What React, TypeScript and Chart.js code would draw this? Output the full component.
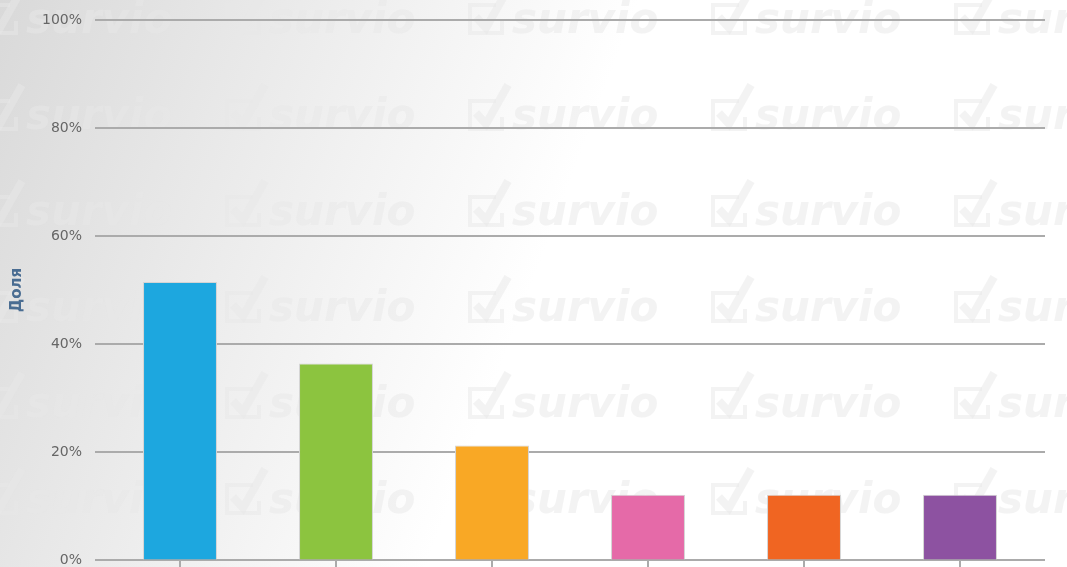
import React, { useEffect, useRef } from "react";
import { Chart, registerables } from "chart.js";

Chart.register(...registerables);

const categories = ["1", "2", "3", "4", "5", "6"];
const shares = [51.5, 36.4, 21.2, 12.1, 12.1, 12.1];
const barColors = ["#1da7df", "#8cc43f", "#f9a825", "#e56aa8", "#f06522", "#8d52a1"];
const yTicks = [0, 20, 40, 60, 80, 100];
const yTitle = "Доля";
const watermarkText = "survio";

const bgPlugin = {
  id: "bgWatermark",
  beforeDraw(chart: any) {
    const { ctx, width, height } = chart;
    ctx.save();
    const g = ctx.createLinearGradient(0, 0, 560, 210);
    g.addColorStop(0, "#d9d9d9");
    g.addColorStop(1, "#ffffff");
    ctx.fillStyle = g;
    ctx.fillRect(0, 0, width, height);
    ctx.fillStyle = "rgba(232,232,232,0.5)";
    ctx.strokeStyle = "rgba(232,232,232,0.5)";
    ctx.font = "italic bold 42px 'DejaVu Sans'";
    ctx.textBaseline = "alphabetic";
    for (let r = 0; r < 6; r++) {
      const by = 33 + r * 96;
      for (let c = 0; c < 5; c++) {
        const x0 = -20 + c * 243;
        ctx.lineWidth = 4;
        ctx.beginPath();
        ctx.moveTo(x0 + 30, by - 28);
        ctx.lineTo(x0 + 4, by - 28);
        ctx.lineTo(x0 + 4, by);
        ctx.lineTo(x0 + 36, by);
        ctx.lineTo(x0 + 36, by - 12);
        ctx.stroke();
        ctx.lineWidth = 8;
        ctx.beginPath();
        ctx.moveTo(x0 + 10, by - 16);
        ctx.lineTo(x0 + 20, by - 5);
        ctx.lineTo(x0 + 42, by - 44);
        ctx.stroke();
        ctx.fillText(watermarkText, x0 + 46, by);
      }
    }
    ctx.restore();
  },
  beforeDatasetsDraw(chart: any) {
    const { ctx, chartArea, scales } = chart;
    const y = scales.y;
    ctx.save();
    ctx.strokeStyle = "#ababab";
    ctx.lineWidth = 2;
    for (const t of yTicks) {
      const py = Math.round(y.getPixelForValue(t));
      ctx.beginPath();
      ctx.moveTo(chartArea.left - 7, py);
      ctx.lineTo(chartArea.right + 7, py);
      ctx.stroke();
    }
    ctx.restore();
  },
};

export default function App() {
  const ref = useRef<HTMLCanvasElement | null>(null);
  useEffect(() => {
    document.body.style.margin = "0";
    const chart = new Chart(ref.current as HTMLCanvasElement, {
      type: "bar",
      data: {
        labels: categories,
        datasets: [
          {
            data: shares,
            backgroundColor: barColors,
            borderColor: "#d4d4d4",
            borderWidth: 1,
            categoryPercentage: 1,
            barPercentage: 0.474,
          },
        ],
      },
      options: {
        animation: false,
        responsive: false,
        layout: { padding: { left: 0, right: 29, top: 20, bottom: 0 } },
        plugins: { legend: { display: false }, tooltip: { enabled: false } },
        scales: {
          x: {
            grid: {
              display: true,
              drawOnChartArea: false,
              drawTicks: true,
              tickLength: 7,
              offset: false,
              color: "#ababab",
              lineWidth: 2,
            },
            border: { display: false },
            ticks: { display: false },
          },
          y: {
            min: 0,
            max: 100,
            grid: {
              display: true,
              drawOnChartArea: false,
              drawTicks: true,
              tickLength: 20,
              color: "rgba(0,0,0,0)",
            },
            border: { display: false },
            ticks: {
              stepSize: 20,
              padding: 0,
              color: "#666666",
              font: { family: "'DejaVu Sans'", size: 14, lineHeight: 1 },
              callback: (v: any) => v + "%",
            },
            title: {
              display: true,
              text: yTitle,
              color: "#4a6d92",
              font: { family: "'DejaVu Sans'", size: 15, weight: "bold" },
              padding: { top: 8, bottom: 0 },
            },
            afterFit: (s: any) => {
              s.width = 102;
            },
          },
        },
      },
      plugins: [bgPlugin],
    });
    return () => chart.destroy();
  }, []);
  return (
    <div style={{ width: 1067, height: 567, overflow: "hidden" }}>
      <canvas ref={ref} width={1067} height={567} />
    </div>
  );
}
